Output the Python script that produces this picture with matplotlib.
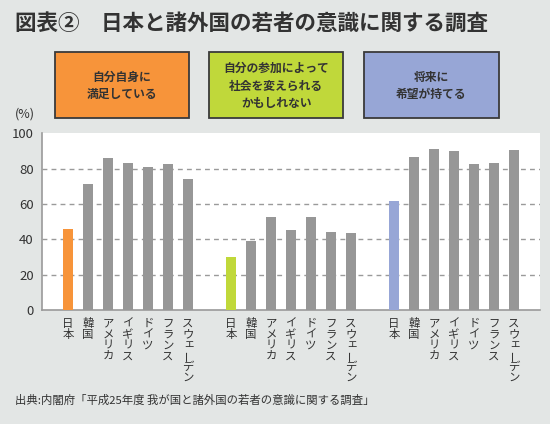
import matplotlib
matplotlib.use("Agg")
import matplotlib.pyplot as plt
from matplotlib.patches import Rectangle
import numpy as np

plt.rcParams['font.family'] = ['Noto Sans CJK JP', 'DejaVu Sans']

countries = ["日本", "韓国", "アメリカ", "イギリス", "ドイツ", "フランス", "スウェーデン"]
groups = ["自分自身に\n満足している", "自分の参加によって\n社会を変えられる\nかもしれない", "将来に\n希望が持てる"]
satisfied = [45.8, 71.5, 86.0, 83.1, 80.9, 82.7, 74.4]
change_society = [30.2, 39.2, 52.9, 45.0, 52.6, 44.2, 43.4]
hopeful = [61.6, 86.4, 91.1, 89.8, 82.4, 83.3, 90.8]
series = [satisfied, change_society, hopeful]
highlight_colors = ["#f7943a", "#c0d83a", "#97a6d6"]
bar_gray = "#979797"
bg = "#e3e6e5"
text_c = "#333333"

W, H = 550, 424
fig = plt.figure(figsize=(5.5, 4.24), dpi=100, facecolor=bg)

ax = fig.add_axes([42 / W, 1 - 310 / H, (540 - 42) / W, (310 - 133.3) / H])
ax.set_facecolor("white")

group_step = 6 + 2.15
pitch = 7.8
small_kana = "ェッァィゥォャュョ"
xs_all = []
for g, vals in enumerate(series):
    xs = np.arange(len(vals)) + g * group_step
    cols = [highlight_colors[g]] + [bar_gray] * (len(vals) - 1)
    ax.bar(xs, vals, width=0.47, color=cols, zorder=3)
    xs_all.extend(xs)
    # vertical (tategaki) category labels
    for x, name in zip(xs, countries):
        for i, ch in enumerate(name):
            dx, dy = 0, 0
            if ch in small_kana:
                dx, dy = 1.0, 1.0
            elif ch == "ー":
                dy = 0.8
            ax.annotate(ch, xy=(x, 0), xycoords=("data", "axes fraction"),
                        xytext=(dx, -6 - pitch / 2 - i * pitch + dy), textcoords="offset points",
                        ha="center", va="center", fontsize=8.2, color=text_c,
                        rotation=90 if ch == "ー" else 0, rotation_mode="anchor")

ax.set_xlim(-1.3, 2 * group_step + 6 + 1.3)
ax.set_ylim(0, 100)
ax.set_yticks([0, 20, 40, 60, 80, 100])
ax.set_xticks(xs_all)
ax.set_xticklabels([])
ax.tick_params(axis="x", length=0)
ax.tick_params(axis="y", length=0, labelsize=9.5, labelcolor=text_c, pad=6)
for y in [20, 40, 60, 80]:
    ax.axhline(y, color="#9a9a9a", lw=1.0, ls=(0, (3.5, 3)), zorder=1)
for s in ["top", "right"]:
    ax.spines[s].set_visible(False)
for s in ["left", "bottom"]:
    ax.spines[s].set_color("#9a9a9a")
    ax.spines[s].set_linewidth(1.2)

# title
fig.text(15 / W, 1 - 23 / H, "図表②　日本と諸外国の若者の意識に関する調査",
         fontsize=15.5, fontweight="bold", color=text_c, va="center", ha="left")

# category boxes
boxes = [(55, 189), (209.3, 343.3), (364, 498.7)]
for (x0, x1), col, lab in zip(boxes, highlight_colors, groups):
    fig.add_artist(Rectangle((x0 / W, 1 - 118.3 / H), (x1 - x0) / W, (118.3 - 51.7) / H,
                             transform=fig.transFigure, facecolor=col,
                             edgecolor="#3a3a3a", lw=1.3))
    fig.text((x0 + x1) / 2 / W, 1 - 86 / H, lab, fontsize=8.5, fontweight="bold",
             color=text_c, ha="center", va="center", linespacing=1.45)

fig.text(25 / W, 1 - 114 / H, "(%)", fontsize=9, color=text_c, ha="center", va="center")

fig.text(15 / W, 1 - 400 / H, "出典:内閣府「平成25年度 我が国と諸外国の若者の意識に関する調査」",
         fontsize=8.2, color=text_c, ha="left", va="center")

fig.savefig("out.png", dpi=100, facecolor=bg)
